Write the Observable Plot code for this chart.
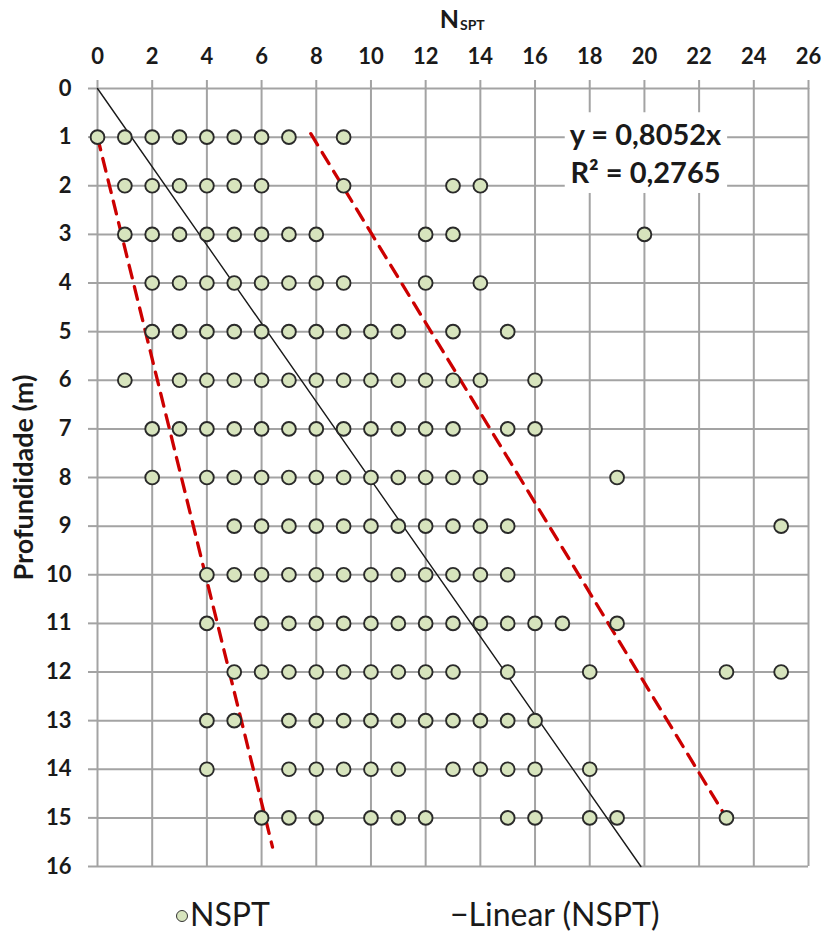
<!DOCTYPE html>
<html>
<head>
<meta charset="utf-8">
<script src="https://cdn.jsdelivr.net/npm/d3@7"></script>
<script src="https://cdn.jsdelivr.net/npm/@observablehq/plot@0.6"></script>
<style>
  body { margin: 0; background: #fff; }
  #chart { width: 827px; position: relative; }
  .legend {
    position: relative; height: 54px; width: 827px;
    font-family: Lato, "Open Sans", sans-serif; font-size: 32px; color: #1a1a1a;
  }
  .legend span { position: absolute; top: 16px; line-height: 36px; white-space: nowrap; }
  .legend .dot {
    display: inline-block; width: 10px; height: 10px; border-radius: 50%;
    background: #d7e4bd; border: 1.4px solid #333; margin-right: 2px; vertical-align: 4px;
  }
</style>
</head>
<body>
<div id="chart"></div>
<script>
// N_SPT blow counts recorded at each depth (m)
const depths = [1, 2, 3, 4, 5, 6, 7, 8, 9, 10, 11, 12, 13, 14, 15];
const nAt1  = [0, 1, 2, 3, 4, 5, 6, 7, 9];
const nAt2  = [1, 2, 3, 4, 5, 6, 9, 13, 14];
const nAt3  = [1, 2, 3, 4, 5, 6, 7, 8, 12, 13, 20];
const nAt4  = [2, 3, 4, 5, 6, 7, 8, 9, 12, 14];
const nAt5  = [2, 3, 4, 5, 6, 7, 8, 9, 10, 11, 13, 15];
const nAt6  = [1, 3, 4, 5, 6, 7, 8, 9, 10, 11, 12, 13, 14, 16];
const nAt7  = [2, 3, 4, 5, 6, 7, 8, 9, 10, 11, 12, 13, 15, 16];
const nAt8  = [2, 4, 5, 6, 7, 8, 9, 10, 11, 12, 13, 14, 19];
const nAt9  = [5, 6, 7, 8, 9, 10, 11, 12, 13, 14, 15, 25];
const nAt10 = [4, 5, 6, 7, 8, 9, 10, 11, 12, 13, 14, 15];
const nAt11 = [4, 6, 7, 8, 9, 10, 11, 12, 13, 14, 15, 16, 17, 19];
const nAt12 = [5, 6, 7, 8, 9, 10, 11, 12, 13, 15, 18, 23, 25];
const nAt13 = [4, 5, 7, 8, 9, 10, 11, 12, 13, 14, 15, 16];
const nAt14 = [4, 7, 8, 9, 10, 11, 13, 14, 15, 16, 18];
const nAt15 = [6, 7, 8, 10, 11, 12, 15, 16, 18, 19, 23];
const nByDepth = [nAt1, nAt2, nAt3, nAt4, nAt5, nAt6, nAt7, nAt8, nAt9, nAt10,
                  nAt11, nAt12, nAt13, nAt14, nAt15];

// Linear trend through the origin: depth = slope * N
const trendSlope = 0.8052;
const trendR2 = 0.2765;

// Lower and upper envelope lines (N, depth)
const lowerEnvN = [0, 6.4];
const lowerEnvDepth = [1, 15.6];
const upperEnvN = [7.8, 23];
const upperEnvDepth = [0.93, 15];

// Axis ticks
const xTicks = [0, 2, 4, 6, 8, 10, 12, 14, 16, 18, 20, 22, 24, 26];
const yTicks = [0, 1, 2, 3, 4, 5, 6, 7, 8, 9, 10, 11, 12, 13, 14, 15, 16];

// Build the table of observations
const points = depths.flatMap((d, i) => nByDepth[i].map(n => ({n, depth: d})));

const yMax = yTicks[yTicks.length - 1];
const trend = [{n: 0, depth: 0}, {n: yMax / trendSlope, depth: yMax}];
const lowerEnv = lowerEnvN.map((n, i) => ({n, depth: lowerEnvDepth[i]}));
const upperEnv = upperEnvN.map((n, i) => ({n, depth: upperEnvDepth[i]}));

const comma = v => String(v).replace(".", ",");
const eqLabel = `y = ${comma(trendSlope)}x\nR² = ${comma(trendR2)}`;

const font = "Lato, 'Open Sans', sans-serif";
const gridColor = "#a3a3a3";

const chart = Plot.plot({
  width: 827,
  height: 880,
  marginLeft: 97,
  marginRight: 19,
  marginTop: 88,
  marginBottom: 14,
  style: {fontFamily: font, fontSize: "22px", fontWeight: "bold", color: "#1a1a1a", background: "#fff"},
  x: {domain: [0, 26], axis: null},
  y: {domain: [0, 16], reverse: true, axis: null},
  marks: [
    Plot.gridX(xTicks, {stroke: gridColor, strokeOpacity: 1, strokeWidth: 2}),
    Plot.gridY(yTicks, {stroke: gridColor, strokeOpacity: 1, strokeWidth: 2}),
    Plot.axisX(xTicks, {anchor: "top", tickSize: 9, tickPadding: 16, stroke: gridColor, strokeWidth: 2,
                        fill: "#1a1a1a", label: null, tickFormat: d => d}),
    Plot.axisY(yTicks, {anchor: "left", tickSize: 9, tickPadding: 17, stroke: gridColor, strokeWidth: 2,
                        fill: "#1a1a1a", label: null, tickFormat: d => d}),
    Plot.line(trend, {x: "n", y: "depth", stroke: "#1a1a1a", strokeWidth: 1.4}),
    Plot.line(lowerEnv, {x: "n", y: "depth", stroke: "#cc0000", strokeWidth: 3.3, strokeDasharray: "13 9"}),
    Plot.line(upperEnv, {x: "n", y: "depth", stroke: "#cc0000", strokeWidth: 3.3, strokeDasharray: "13 9"}),
    Plot.dot(points, {x: "n", y: "depth", r: 6.9, fill: "#d7e4bd", fillOpacity: 1, stroke: "#2a2a2a", strokeWidth: 1.9}),
    // axis titles
    Plot.text(["Profundidade (m)"], {frameAnchor: "left", dx: -73, rotate: -90, fontSize: 27,
                                     textAnchor: "middle", lineAnchor: "middle", fill: "#1a1a1a"}),
    Plot.text(["N"], {frameAnchor: "top", dx: 6, dy: -78, fontSize: 25, fill: "#1a1a1a", textAnchor: "end"}),
    Plot.text(["SPT"], {frameAnchor: "top", dx: 7, dy: -68, fontSize: 14, fill: "#1a1a1a", textAnchor: "start"}),
    // regression annotation
    Plot.text([eqLabel], {frameAnchor: "top-right", dx: -163, dy: 30, lineAnchor: "top", lineHeight: 1.3,
                          fontSize: 29, fill: "#1a1a1a", textAnchor: "middle", className: "eq-label"})
  ]
});

document.getElementById("chart").appendChild(chart);

// White panel behind the regression annotation
const eq = d3.select(chart).select("g.eq-label");
if (!eq.empty()) {
  const bb = eq.node().getBBox();
  const tr = eq.node().getAttribute("transform");
  d3.select(eq.node().parentNode).insert("rect", () => eq.node())
    .attr("x", bb.x - 5).attr("y", bb.y - 4)
    .attr("width", bb.width + 10).attr("height", bb.height + 8)
    .attr("fill", "#fff")
    .attr("transform", tr);
}

// Legend under the plot
const legend = d3.select("body").append("div").attr("class", "legend");
legend.append("span").style("left", "176px").html('<i class="dot"></i>NSPT');
legend.append("span").style("left", "450px").text("\u2212Linear (NSPT)");
</script>
</body>
</html>
